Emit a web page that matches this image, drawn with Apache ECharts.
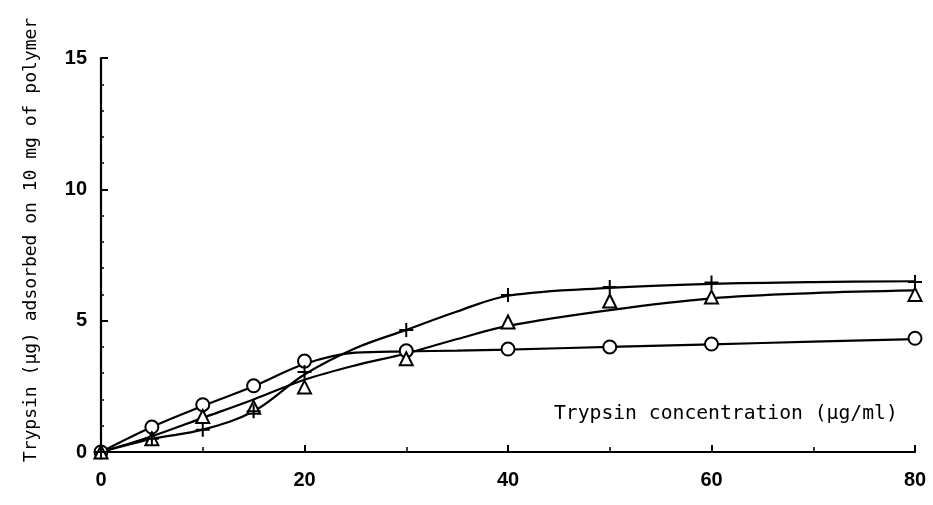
<!DOCTYPE html>
<html>
<head>
<meta charset="UTF-8">
<title>Trypsin adsorption</title>
<style>
  * { margin: 0; padding: 0; }
  body { background: #fff; }
  #chart { width: 933px; height: 505px; }
</style>
</head>
<body>
<div id="chart"></div>
<script src="https://cdn.jsdelivr.net/npm/echarts@6/dist/echarts.min.js"></script>
<script>
// measured points (x = trypsin concentration, µg/ml)
var pointX = [0, 5, 10, 15, 20, 30, 40, 50, 60, 80];
var circleY = [0, 0.95, 1.8, 2.52, 3.46, 3.85, 3.92, 4.0, 4.11, 4.33];
var plusY = [0, 0.5, 0.85, 1.55, 3.05, 4.64, 5.98, 6.28, 6.45, 6.47];
var triangleY = [0, 0.5, 1.35, 1.7, 2.47, 3.55, 4.95, 5.75, 5.9, 6.0];

// fitted curves as drawn in the figure
var curveX = [0, 5, 10, 15, 20, 25, 30, 35, 40, 50, 60, 70, 80];
var circleCurve = [0, 0.95, 1.75, 2.5, 3.35, 3.78, 3.83, 3.86, 3.9, 4.0, 4.1, 4.2, 4.3];
var plusCurve = [0, 0.5, 0.85, 1.55, 2.95, 3.95, 4.65, 5.35, 5.95, 6.25, 6.4, 6.47, 6.5];
var triangleCurve = [0, 0.6, 1.3, 2.0, 2.75, 3.3, 3.75, 4.3, 4.8, 5.4, 5.85, 6.05, 6.15];

var xTicks = [0, 20, 40, 60, 80];
var yTicks = [0, 5, 10, 15];

function pairs(xs, ys) {
    return xs.map(function (x, i) { return [x, ys[i]]; });
}

var chart = echarts.init(document.getElementById('chart'));

var tickFont = {
    color: '#000',
    fontFamily: 'Liberation Sans',
    fontWeight: 'bold',
    fontSize: 20
};

function curve(data) {
    return {
        type: 'line',
        data: data,
        smooth: 0.35,
        showSymbol: false,
        lineStyle: { color: '#000', width: 2.2 },
        z: 2
    };
}

function marks(data, symbol, size) {
    return {
        type: 'scatter',
        data: data,
        symbol: symbol,
        symbolSize: size,
        itemStyle: { color: '#fff', borderColor: '#000', borderWidth: 2, opacity: 1 },
        z: 3
    };
}

var option = {
    backgroundColor: '#fff',
    animation: false,
    grid: { left: 101, top: 58, right: 18, bottom: 53 },
    xAxis: {
        type: 'value',
        min: 0,
        max: 80,
        interval: 20,
        axisLine: { lineStyle: { color: '#000', width: 2.2 } },
        axisTick: { inside: true, length: 7, lineStyle: { color: '#000', width: 2 } },
        minorTick: { show: true, splitNumber: 2, length: 5, lineStyle: { color: '#000', width: 1.5 } },
        splitLine: { show: false },
        axisLabel: Object.assign({
            margin: 18,
            formatter: function (v) { return xTicks.indexOf(v) > -1 ? String(v) : ''; }
        }, tickFont)
    },
    yAxis: {
        type: 'value',
        min: 0,
        max: 15,
        interval: 5,
        axisLine: { lineStyle: { color: '#000', width: 2.2 } },
        axisTick: { inside: true, length: 7, lineStyle: { color: '#000', width: 2 } },
        minorTick: { show: true, splitNumber: 5, length: 3, lineStyle: { color: '#000', width: 1.5 } },
        splitLine: { show: false },
        axisLabel: Object.assign({
            margin: 14,
            formatter: function (v) { return yTicks.indexOf(v) > -1 ? String(v) : ''; }
        }, tickFont)
    },
    graphic: [
        {
            type: 'text',
            left: 554,
            top: 404,
            style: {
                text: 'Trypsin concentration (µg/ml)',
                fill: '#000',
                font: '19.7px "DejaVu Sans Mono"'
            }
        },
        {
            type: 'text',
            x: 31,
            y: 240,
            rotation: Math.PI / 2,
            style: {
                text: 'Trypsin (µg) adsorbed on 10 mg of polymer',
                fill: '#000',
                font: '18px "DejaVu Sans Mono"',
                align: 'center',
                verticalAlign: 'middle'
            }
        }
    ],
    series: [
        curve(pairs(curveX, circleCurve)),
        curve(pairs(curveX, plusCurve)),
        curve(pairs(curveX, triangleCurve)),
        marks(pairs(pointX, circleY), 'circle', 13),
        marks(pairs(pointX, triangleY), 'triangle', 13),
        {
            type: 'scatter',
            data: pairs(pointX, plusY),
            symbol: 'path://M5,0 L5,10 M0,5 L10,5',
            symbolSize: 14,
            itemStyle: { color: 'none', borderColor: '#000', borderWidth: 2, opacity: 1 },
            z: 3
        }
    ]
};

chart.setOption(option);
</script>
</body>
</html>
